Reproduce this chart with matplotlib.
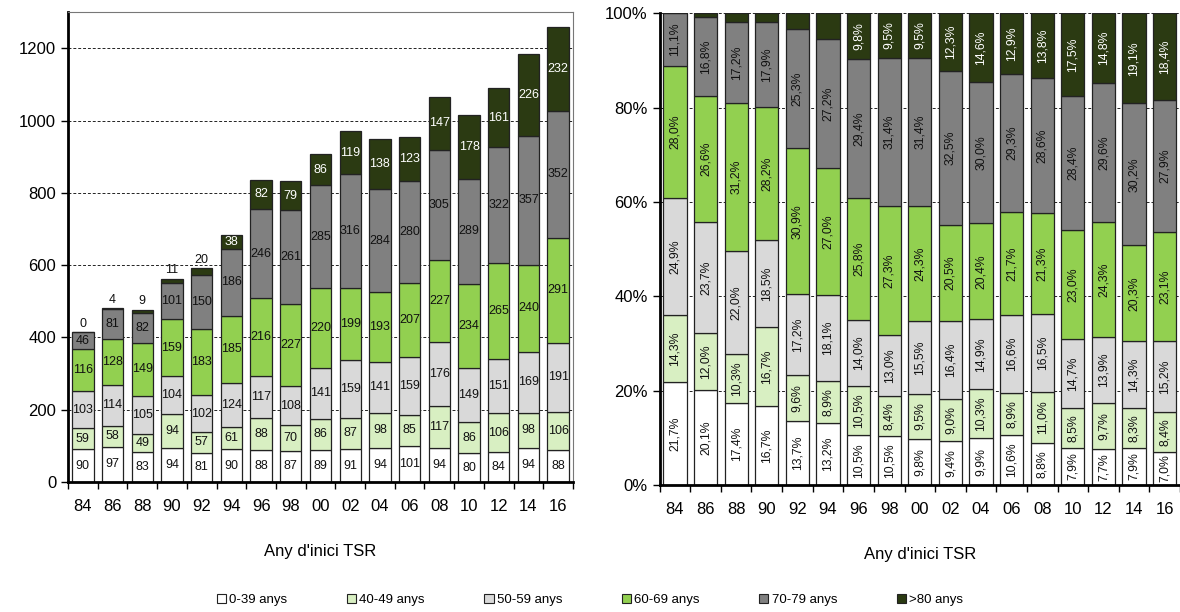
import matplotlib
matplotlib.use('Agg')
import matplotlib.pyplot as plt
import numpy as np
from matplotlib.patches import Patch

plt.rcParams['font.family'] = ['Liberation Sans', 'DejaVu Sans']

years = ['84', '86', '88', '90', '92', '94', '96', '98', '00', '02', '04', '06', '08', '10', '12', '14', '16']
groups = ['0-39 anys', '40-49 anys', '50-59 anys', '60-69 anys', '70-79 anys', '>80 anys']
colors = ['#ffffff', '#d8efc2', '#d9d9d9', '#92d050', '#808080', '#2b3a12']
txtcol = ['#111111', '#111111', '#111111', '#111111', '#111111', '#ffffff']

g0_39 = [90, 97, 83, 94, 81, 90, 88, 87, 89, 91, 94, 101, 94, 80, 84, 94, 88]
g40_49 = [59, 58, 49, 94, 57, 61, 88, 70, 86, 87, 98, 85, 117, 86, 106, 98, 106]
g50_59 = [103, 114, 105, 104, 102, 124, 117, 108, 141, 159, 141, 159, 176, 149, 151, 169, 191]
g60_69 = [116, 128, 149, 159, 183, 185, 216, 227, 220, 199, 193, 207, 227, 234, 265, 240, 291]
g70_79 = [46, 81, 82, 101, 150, 186, 246, 261, 285, 316, 284, 280, 305, 289, 322, 357, 352]
g80 = [0, 4, 9, 11, 20, 38, 82, 79, 86, 119, 138, 123, 147, 178, 161, 226, 232]

series = [g0_39, g40_49, g50_59, g60_69, g70_79, g80]
counts = np.array(series, dtype=float)
totals = counts.sum(axis=0)
pct = counts / totals * 100

x = np.arange(len(years))
fig = plt.figure(figsize=(11.8, 6.12), dpi=100)
ax1 = fig.add_axes([0.0576, 0.2124, 0.428, 0.7676])
ax2 = fig.add_axes([0.559, 0.2075, 0.441, 0.771])

def style_axis(ax):
    ax.set_axisbelow(True)
    ax.yaxis.grid(True, linestyle=(0, (3, 2)), color='#222222', linewidth=0.7)
    ax.set_xticks(x)
    ax.set_xticklabels(years)
    ax.set_xticks(np.arange(-0.5, len(years), 1.0), minor=True)
    ax.tick_params(axis='x', which='major', length=0, pad=12, labelsize=12)
    ax.tick_params(axis='x', which='minor', length=5, width=1, direction='out')
    ax.tick_params(axis='y', length=5, width=1, direction='out', labelsize=12)
    ax.spines['left'].set_linewidth(2)
    ax.spines['bottom'].set_linewidth(2)
    ax.set_xlabel("Any d'inici TSR", fontsize=12, labelpad=22)

# left: absolute counts
bottom = np.zeros(len(years))
for k, vals in enumerate(series):
    v = np.array(vals, dtype=float)
    ax1.bar(x, v, 0.72, bottom=bottom, color=colors[k], edgecolor='#222222', linewidth=0.9, zorder=2)
    for i in range(len(years)):
        if k == 5 and v[i] < 30:
            ax1.text(x[i], bottom[i] + v[i] + 6, str(int(v[i])), ha='center', va='bottom', fontsize=9, color='#111111')
        else:
            ax1.text(x[i], bottom[i] + v[i] / 2, str(int(v[i])), ha='center', va='center', fontsize=9, color=txtcol[k], zorder=3)
    bottom += v

ax1.set_ylim(0, 1300)
ax1.set_xlim(-0.5, len(years) - 0.5)
ax1.set_yticks(range(0, 1201, 200))
style_axis(ax1)
for s in ['top', 'right']:
    ax1.spines[s].set_color('#777777')
    ax1.spines[s].set_linewidth(0.8)

# right: percentages
bottom = np.zeros(len(years))
for k in range(len(series)):
    v = pct[k]
    ax2.bar(x, v, 0.76, bottom=bottom, color=colors[k], edgecolor='#222222', linewidth=0.9, zorder=2)
    for i in range(len(years)):
        if v[i] >= 6.5:
            lab = ('%.1f%%' % v[i]).replace('.', ',')
            ax2.text(x[i], bottom[i] + v[i] / 2, lab, ha='center', va='center', rotation=90,
                     fontsize=8.8, color=txtcol[k], zorder=3)
    bottom += v

ax2.set_ylim(0, 100)
ax2.set_xlim(-0.44, len(years) - 0.56)
ax2.set_yticks(range(0, 101, 20))
ax2.set_yticklabels(['%d%%' % t for t in range(0, 101, 20)])
style_axis(ax2)
ax2.spines['top'].set_visible(False)
ax2.spines['right'].set_visible(False)

handles = [Patch(facecolor=colors[k], edgecolor='#222222', linewidth=0.8, label=groups[k]) for k in range(6)]
fig.legend(handles=handles, loc='center', bbox_to_anchor=(0.5, 1 - 600 / 612), ncol=6, frameon=False,
           fontsize=9.5, handlelength=0.7, handleheight=0.7, handletextpad=0.25, columnspacing=4.5)

fig.savefig('out.png', dpi=100)
